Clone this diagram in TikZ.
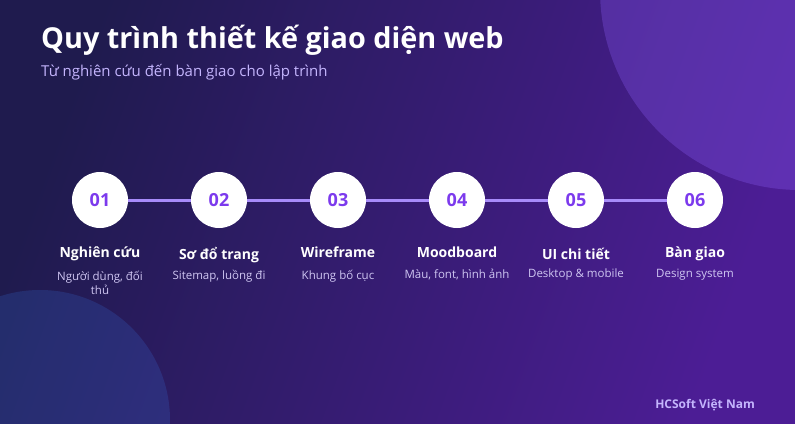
\documentclass[tikz,border=0pt]{standalone}
\usepackage{fontspec}
\setmainfont{Open Sans}
\definecolor{bgL}{HTML}{1F1B4E}
\definecolor{bgR}{HTML}{4C1D95}
\definecolor{numc}{HTML}{7C3AED}
\definecolor{linec}{HTML}{A78BFA}
\definecolor{subc}{HTML}{C4B5FD}
\definecolor{descc}{HTML}{CFC6F2}
\definecolor{blobA}{HTML}{8B5CF6}
\definecolor{blobB}{HTML}{3B82F6}
\begin{document}
\begin{tikzpicture}[x=1pt,y=-1pt,
  stepcircle/.style={circle, fill=white, minimum size=56pt, inner sep=0pt, text=numc,
    font=\bfseries\fontsize{18}{18}\selectfont},
  steptitle/.style={anchor=base, text=white, font=\bfseries\fontsize{14}{16}\selectfont},
  stepdesc/.style={anchor=base, text=descc, align=center, font=\fontsize{11.5}{14}\selectfont},
  link/.style={draw=linec, line width=3pt}]
\useasboundingbox (0,0) rectangle (795,423);
\clip (0,0) rectangle (795,423);
% background
\shade[left color=bgL, right color=bgR, shading angle=70] (0,0) rectangle (795,423);
% decorative blobs
\fill[blobA, opacity=0.3] (800,-10) circle[radius=200pt];
\fill[blobB, opacity=0.18] (40,420) circle[radius=130pt];
% header
\node[anchor=base west, text=white, inner sep=0pt, font=\bfseries\fontsize{28.8}{30}\selectfont] (title) at (41,48) {Quy trình thiết kế giao diện web};
\node[anchor=base west, text=subc, inner sep=0pt, font=\fontsize{15}{16}\selectfont] (subtitle) at (41,76) {Từ nghiên cứu đến bàn giao cho lập trình};
% steps
\node[stepcircle] (s1) at (100,200) {01};
\node[stepcircle] (s2) at (219,200) {02};
\node[stepcircle] (s3) at (338,200) {03};
\node[stepcircle] (s4) at (457,200) {04};
\node[stepcircle] (s5) at (576,200) {05};
\node[stepcircle] (s6) at (695,200) {06};
\draw[link] (s1) -- (s2);
\draw[link] (s2) -- (s3);
\draw[link] (s3) -- (s4);
\draw[link] (s4) -- (s5);
\draw[link] (s5) -- (s6);
\node[steptitle] (t1) at (100,257) {Nghiên cứu};
\node[steptitle] (t2) at (219,259) {Sơ đổ trang};
\node[steptitle] (t3) at (338,257) {Wireframe};
\node[steptitle] (t4) at (457,257) {Moodboard};
\node[steptitle] (t5) at (576,259) {UI chi tiết};
\node[steptitle] (t6) at (695,257) {Bàn giao};
\node[stepdesc] (d1) at (100,294) {Người dùng, đối\\thủ};
\node[stepdesc] (d2) at (219,279) {Sitemap, luồng đi};
\node[stepdesc] (d3) at (338,279) {Khung bố cục};
\node[stepdesc] (d4) at (457,278) {Màu, font, hình ảnh};
\node[stepdesc] (d5) at (576,277) {Desktop \& mobile};
\node[stepdesc] (d6) at (695,277) {Design system};
% footer
\node[anchor=base east, text=subc, inner sep=0pt, font=\bfseries\fontsize{12}{14}\selectfont] (footer) at (755,408) {HCSoft Việt Nam};
\end{tikzpicture}
\end{document}
